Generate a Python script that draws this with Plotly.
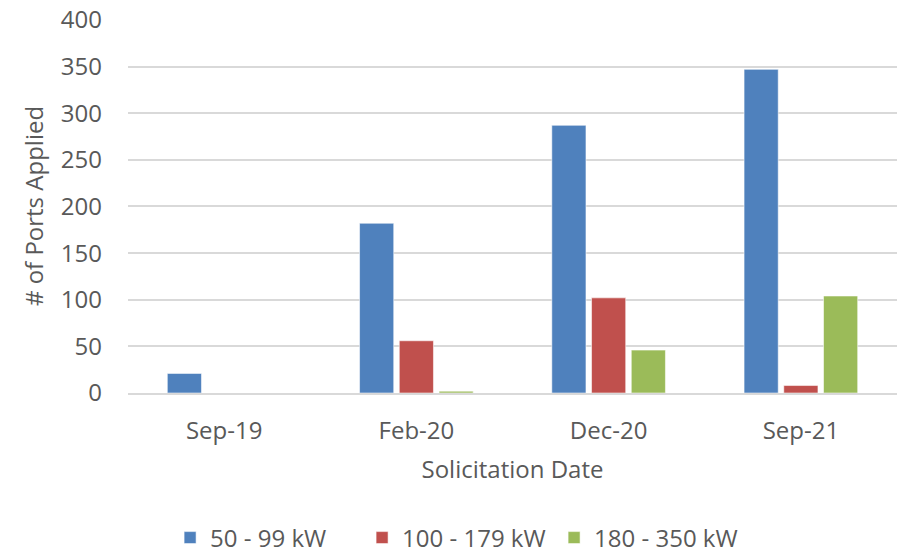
import plotly.graph_objects as go

categories = ["Sep-19", "Feb-20", "Dec-20", "Sep-21"]
kw_50_99 = [21, 182, 287, 347]
kw_100_179 = [0, 56, 102, 8]
kw_180_350 = [0, 2, 46, 104]
series_names = ["50 - 99 kW", "100 - 179 kW", "180 - 350 kW"]
colors = ["#4F81BD", "#C0504D", "#9BBB59"]
y_ticks = [0, 50, 100, 150, 200, 250, 300, 350, 400]

font_family = "Open Sans"
text_color = "#595959"
grid_color = "#D9D9D9"

fig_w, fig_h = 908, 555

fig = go.Figure()
for name, vals, col in zip(series_names, [kw_50_99, kw_100_179, kw_180_350], colors):
    fig.add_trace(go.Bar(
        x=categories, y=vals, name=name,
        marker=dict(color=col, line=dict(color="rgba(255,255,255,0.55)", width=1)),
    ))

fig.update_layout(
    width=fig_w, height=fig_h,
    margin=dict(l=128, r=11, t=19, b=162.4, autoexpand=False),
    paper_bgcolor="white", plot_bgcolor="white",
    barmode="group", bargap=0.38, bargroupgap=0.14,
    font=dict(family=font_family, size=24, color=text_color),
    showlegend=True,
    legend=dict(orientation="h", xref="container", x=0.5045, xanchor="center",
                yref="container", y=1 - 538 / fig_h, yanchor="middle",
                font=dict(size=24, color=text_color), itemwidth=30,
                entrywidth=147, entrywidthmode="pixels",
                traceorder="normal"),
)
fig.update_yaxes(
    range=[0, 401], tickvals=y_ticks, showgrid=True, gridcolor=grid_color, gridwidth=1.5,
    zeroline=False, showline=False, ticks="", ticklabelstandoff=25, automargin=False,
    ticklabeloverflow="allow",
    title=dict(text="# of Ports Applied", font=dict(size=24, color=text_color), standoff=10),
    tickfont=dict(size=24, color=text_color),
)
fig.update_xaxes(
    showgrid=False, showline=True, linecolor=grid_color, linewidth=1.5, ticks="",
    ticklabelstandoff=15, automargin=False,
    title=dict(text="Solicitation Date", font=dict(size=24, color=text_color), standoff=17),
    tickfont=dict(size=24, color=text_color),
)

fig.write_html("out.html",
               config={"displayModeBar": False},
               post_script="document.body.style.margin='0';document.body.style.overflow='hidden';")
